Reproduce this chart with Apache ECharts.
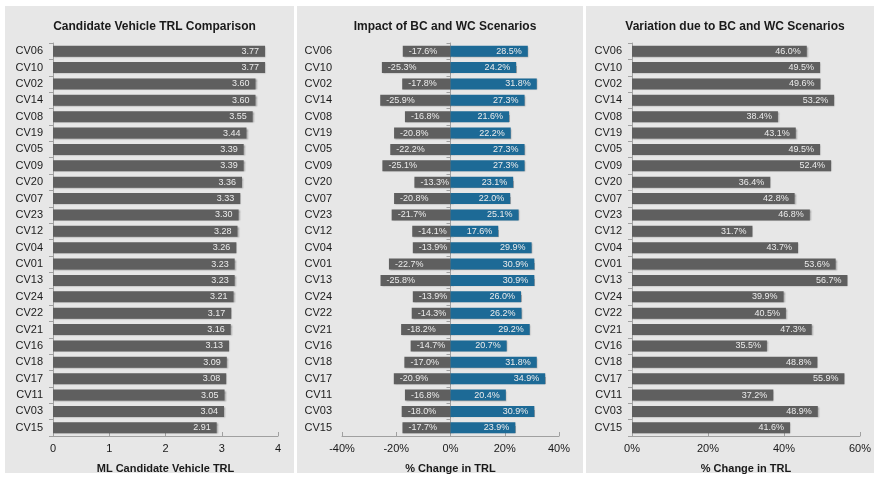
<!DOCTYPE html>
<html>
<head>
<meta charset="utf-8">
<script src="https://cdn.jsdelivr.net/npm/echarts@6/dist/echarts.min.js"></script>
<style>
  html, body { margin: 0; padding: 0; background: #ffffff; }
  #chart { width: 874px; height: 482px; }
</style>
</head>
<body>
<div id="chart"></div>
<script>
// Candidate vehicles, top to bottom
const categories = ['CV06','CV10','CV02','CV14','CV08','CV19','CV05','CV09','CV20','CV07','CV23','CV12',
                    'CV04','CV01','CV13','CV24','CV22','CV21','CV16','CV18','CV17','CV11','CV03','CV15'];

// ML candidate vehicle TRL
const trlValues = [3.77,3.77,3.60,3.60,3.55,3.44,3.39,3.39,3.36,3.33,3.30,3.28,
                   3.26,3.23,3.23,3.21,3.17,3.16,3.13,3.09,3.08,3.05,3.04,2.91];

// % change in TRL under the BC scenario (negative side)
const bcChange = [-17.6,-25.3,-17.8,-25.9,-16.8,-20.8,-22.2,-25.1,-13.3,-20.8,-21.7,-14.1,
                  -13.9,-22.7,-25.8,-13.9,-14.3,-18.2,-14.7,-17.0,-20.9,-16.8,-18.0,-17.7];

// % change in TRL under the WC scenario (positive side)
const wcChange = [28.5,24.2,31.8,27.3,21.6,22.2,27.3,27.3,23.1,22.0,25.1,17.6,
                  29.9,30.9,30.9,26.0,26.2,29.2,20.7,31.8,34.9,20.4,30.9,23.9];

// Total spread between the two scenarios
const variation = [46.0,49.5,49.6,53.2,38.4,43.1,49.5,52.4,36.4,42.8,46.8,31.7,
                   43.7,53.6,56.7,39.9,40.5,47.3,35.5,48.8,55.9,37.2,48.9,41.6];

const panelTitles = ['Candidate Vehicle TRL Comparison', 'Impact of BC and WC Scenarios', 'Variation due to BC and WC Scenarios'];
const axisNames = ['ML Candidate Vehicle TRL', '% Change in TRL', '% Change in TRL'];

const FONT = '"Liberation Sans", Arial, Helvetica, sans-serif';
const GRAY = '#5f5f5f';
const BLUE = '#1d6a96';
const PANEL_BG = '#e7e7e7';
const AXIS_COLOR = '#a0a0a0';
const TEXT = '#1a1a1a';

// panel boxes [x, y, w, h]
const panels = [[5, 6, 289, 467], [297, 6, 286, 467], [586, 6, 288, 467]];

const barShadow = { shadowColor: 'rgba(0,0,0,0.3)', shadowBlur: 1.5, shadowOffsetX: 1, shadowOffsetY: 1 };

function catAxis(gridIndex, opts) {
  return Object.assign({
    type: 'category', gridIndex: gridIndex, data: categories, inverse: true, position: 'left',
    axisLine: { show: true, onZero: false, lineStyle: { color: AXIS_COLOR, width: 1 } },
    axisTick: { show: true, length: 4, lineStyle: { color: AXIS_COLOR } },
    axisLabel: { show: true, color: TEXT, fontSize: 11, fontFamily: FONT, margin: 10 },
    splitLine: { show: false }
  }, opts || {});
}

function valAxis(gridIndex, min, max, interval, fmt, name) {
  return {
    type: 'value', gridIndex: gridIndex, min: min, max: max, interval: interval,
    name: name, nameLocation: 'middle', nameGap: 27,
    nameTextStyle: { color: TEXT, fontSize: 11, fontWeight: 'bold', fontFamily: FONT },
    axisLine: { show: true, lineStyle: { color: AXIS_COLOR, width: 1 } },
    axisTick: { show: true, inside: true, length: 4, lineStyle: { color: AXIS_COLOR } },
    axisLabel: { color: TEXT, fontSize: 11, fontFamily: FONT, margin: 7, formatter: fmt },
    splitLine: { show: false }
  };
}

function valueLabel(position, fmt) {
  return {
    show: true, position: position, distance: 6,
    color: '#ececec', fontSize: 9, fontFamily: FONT, formatter: fmt
  };
}

const option = {
  backgroundColor: '#ffffff',
  animation: false,
  graphic: panels.map(p => ({
    type: 'rect', silent: true, z: -10,
    shape: { x: p[0], y: p[1], width: p[2], height: p[3] },
    style: { fill: PANEL_BG }
  })),
  title: panelTitles.map((t, i) => ({
    text: t,
    left: panels[i][0] + panels[i][2] / 2,
    top: 16,
    textAlign: 'center',
    textStyle: { color: TEXT, fontSize: 12, fontWeight: 'bold', fontFamily: FONT }
  })),
  grid: [
    { left: 53, top: 43, width: 225, height: 393 },
    { left: 342, top: 43, width: 217, height: 393 },
    { left: 632, top: 43, width: 232, height: 393 }
  ],
  xAxis: [
    valAxis(0, 0, 4, 1, v => String(v), axisNames[0]),
    valAxis(1, -40, 40, 20, v => v + '%', axisNames[1]),
    valAxis(2, 0, 60, 20, v => v + '%', axisNames[2])
  ],
  yAxis: [
    catAxis(0),
    // category labels on the left edge of the middle panel
    catAxis(1, { axisLine: { show: false, onZero: false }, axisTick: { show: false } }),
    // zero line of the middle panel with its ticks
    catAxis(1, { axisLine: { show: true, onZero: true, lineStyle: { color: AXIS_COLOR, width: 1 } },
                 axisLabel: { show: false } }),
    catAxis(2)
  ],
  series: [
    {
      type: 'bar', name: 'TRL', xAxisIndex: 0, yAxisIndex: 0, data: trlValues,
      barWidth: 11, itemStyle: Object.assign({ color: GRAY }, barShadow),
      label: valueLabel('insideRight', p => p.value.toFixed(2))
    },
    {
      type: 'bar', name: 'BC', xAxisIndex: 1, yAxisIndex: 1, data: bcChange, stack: 'scen',
      barWidth: 11, itemStyle: Object.assign({ color: GRAY }, barShadow),
      label: valueLabel('insideLeft', p => p.value.toFixed(1) + '%')
    },
    {
      type: 'bar', name: 'WC', xAxisIndex: 1, yAxisIndex: 1, data: wcChange, stack: 'scen',
      barWidth: 11, itemStyle: Object.assign({ color: BLUE }, barShadow),
      label: valueLabel('insideRight', p => p.value.toFixed(1) + '%')
    },
    {
      type: 'bar', name: 'Variation', xAxisIndex: 2, yAxisIndex: 3, data: variation,
      barWidth: 11, itemStyle: Object.assign({ color: GRAY }, barShadow),
      label: valueLabel('insideRight', p => p.value.toFixed(1) + '%')
    }
  ]
};

const chart = echarts.init(document.getElementById('chart'), null, { renderer: 'canvas' });
chart.setOption(option);
</script>
</body>
</html>
